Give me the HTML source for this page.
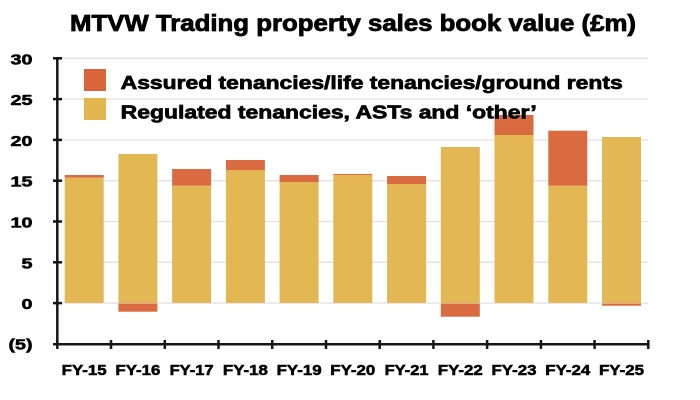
<!DOCTYPE html>
<html>
<head>
<meta charset="utf-8">
<style>
  html, body { margin: 0; padding: 0; background: #fff; }
  svg { display: block; }
  text { font-family: "Liberation Sans", Arial, sans-serif; font-weight: bold; fill: #000; stroke: #000; stroke-width: 0.55; paint-order: stroke; }
</style>
</head>
<body>
<svg width="700" height="400" viewBox="0 0 700 400" xmlns="http://www.w3.org/2000/svg">
  <rect width="700" height="400" fill="#fff"/>

  <!-- Title -->
  <text x="70" y="31" font-size="23" textLength="566" lengthAdjust="spacingAndGlyphs" style="stroke-width:0.8">MTVW Trading property sales book value (£m)</text>

  <!-- Gridlines -->
  <g stroke="#e2e2e2" stroke-width="1.3">
    <line x1="57" y1="58.3" x2="648" y2="58.3"/>
    <line x1="57" y1="99.1" x2="648" y2="99.1"/>
    <line x1="57" y1="139.9" x2="648" y2="139.9"/>
    <line x1="57" y1="180.7" x2="648" y2="180.7"/>
    <line x1="57" y1="221.5" x2="648" y2="221.5"/>
    <line x1="57" y1="262.3" x2="648" y2="262.3"/>
    <line x1="57" y1="303.1" x2="648" y2="303.1"/>
  </g>

  <!-- Bars: yellow -->
  <g fill="#E3B54F" fill-opacity="0.97">
    <rect x="64.7" y="177.7" width="39" height="125.3"/>
    <rect x="118.4" y="154" width="39" height="149"/>
    <rect x="172.1" y="185.7" width="39" height="117.3"/>
    <rect x="225.9" y="170" width="39" height="133"/>
    <rect x="279.6" y="182" width="39" height="121"/>
    <rect x="333.3" y="175" width="39" height="128"/>
    <rect x="387.1" y="184" width="39" height="119"/>
    <rect x="440.8" y="147" width="39" height="156"/>
    <rect x="494.5" y="135" width="39" height="168"/>
    <rect x="548.3" y="185.7" width="39" height="117.3"/>
    <rect x="602" y="137" width="39" height="166"/>
  </g>
  <!-- Bars: orange -->
  <g fill="#D9653A" fill-opacity="0.97">
    <rect x="64.7" y="175" width="39" height="2.7"/>
    <rect x="118.4" y="303.5" width="39" height="8.2"/>
    <rect x="172.1" y="169" width="39" height="16.7"/>
    <rect x="225.9" y="160" width="39" height="10"/>
    <rect x="279.6" y="175" width="39" height="7"/>
    <rect x="333.3" y="174" width="39" height="1"/>
    <rect x="387.1" y="176" width="39" height="8"/>
    <rect x="440.8" y="303.5" width="39" height="13.2"/>
    <rect x="494.5" y="115" width="39" height="20"/>
    <rect x="548.3" y="130.7" width="39" height="55"/>
    <rect x="602" y="303.5" width="39" height="2.2"/>
  </g>

  <!-- Axes -->
  <g stroke="#151515" stroke-width="2.5" stroke-linecap="butt">
    <line x1="57.3" y1="57" x2="57.3" y2="345.5"/>
    <line x1="53" y1="344.3" x2="648.5" y2="344.3"/>
    <!-- y ticks -->
    <line x1="53" y1="58.3" x2="62" y2="58.3"/>
    <line x1="53" y1="99.1" x2="62" y2="99.1"/>
    <line x1="53" y1="139.9" x2="62" y2="139.9"/>
    <line x1="53" y1="180.7" x2="62" y2="180.7"/>
    <line x1="53" y1="221.5" x2="62" y2="221.5"/>
    <line x1="53" y1="262.3" x2="62" y2="262.3"/>
    <line x1="53" y1="303.1" x2="62" y2="303.1"/>
    <!-- x ticks -->
    <line x1="57.3" y1="340" x2="57.3" y2="349"/>
    <line x1="111" y1="340" x2="111" y2="349"/>
    <line x1="164.8" y1="340" x2="164.8" y2="349"/>
    <line x1="218.5" y1="340" x2="218.5" y2="349"/>
    <line x1="272.2" y1="340" x2="272.2" y2="349"/>
    <line x1="326" y1="340" x2="326" y2="349"/>
    <line x1="379.7" y1="340" x2="379.7" y2="349"/>
    <line x1="433.4" y1="340" x2="433.4" y2="349"/>
    <line x1="487.1" y1="340" x2="487.1" y2="349"/>
    <line x1="540.9" y1="340" x2="540.9" y2="349"/>
    <line x1="594.6" y1="340" x2="594.6" y2="349"/>
    <line x1="648.3" y1="340" x2="648.3" y2="349"/>
  </g>

  <!-- Y labels -->
  <g font-size="14.5">
    <text x="10.5" y="64.3" textLength="22" lengthAdjust="spacingAndGlyphs">30</text>
    <text x="10.5" y="105.1" textLength="22" lengthAdjust="spacingAndGlyphs">25</text>
    <text x="10.5" y="145.9" textLength="22" lengthAdjust="spacingAndGlyphs">20</text>
    <text x="10.5" y="186.7" textLength="22" lengthAdjust="spacingAndGlyphs">15</text>
    <text x="10.5" y="227.5" textLength="22" lengthAdjust="spacingAndGlyphs">10</text>
    <text x="21.5" y="268.3" textLength="11" lengthAdjust="spacingAndGlyphs">5</text>
    <text x="21.5" y="309.1" textLength="11" lengthAdjust="spacingAndGlyphs">0</text>
    <text x="8.5" y="349.5" textLength="24" lengthAdjust="spacingAndGlyphs">(5)</text>
  </g>

  <!-- X labels -->
  <g font-size="14.5" text-anchor="middle">
    <text x="84.2" y="375" textLength="45" lengthAdjust="spacingAndGlyphs">FY-15</text>
    <text x="137.9" y="375" textLength="45" lengthAdjust="spacingAndGlyphs">FY-16</text>
    <text x="191.6" y="375" textLength="44" lengthAdjust="spacingAndGlyphs">FY-17</text>
    <text x="245.4" y="375" textLength="45" lengthAdjust="spacingAndGlyphs">FY-18</text>
    <text x="299.1" y="375" textLength="45" lengthAdjust="spacingAndGlyphs">FY-19</text>
    <text x="352.8" y="375" textLength="45" lengthAdjust="spacingAndGlyphs">FY-20</text>
    <text x="406.6" y="375" textLength="44" lengthAdjust="spacingAndGlyphs">FY-21</text>
    <text x="460.3" y="375" textLength="45" lengthAdjust="spacingAndGlyphs">FY-22</text>
    <text x="514.0" y="375" textLength="45" lengthAdjust="spacingAndGlyphs">FY-23</text>
    <text x="567.8" y="375" textLength="45" lengthAdjust="spacingAndGlyphs">FY-24</text>
    <text x="621.5" y="375" textLength="45" lengthAdjust="spacingAndGlyphs">FY-25</text>
  </g>

  <!-- Legend -->
  <rect x="84" y="69" width="22" height="22" fill="#D9653A"/>
  <rect x="84" y="98" width="22" height="22" fill="#E3B54F"/>
  <text x="120.7" y="89" font-size="18.5" textLength="502" lengthAdjust="spacingAndGlyphs" style="stroke-width:0.7">Assured tenancies/life tenancies/ground rents</text>
  <text x="120.7" y="118.3" font-size="18.5" textLength="416" lengthAdjust="spacingAndGlyphs" style="stroke-width:0.7">Regulated tenancies, ASTs and ‘other’</text>
</svg>
</body>
</html>
